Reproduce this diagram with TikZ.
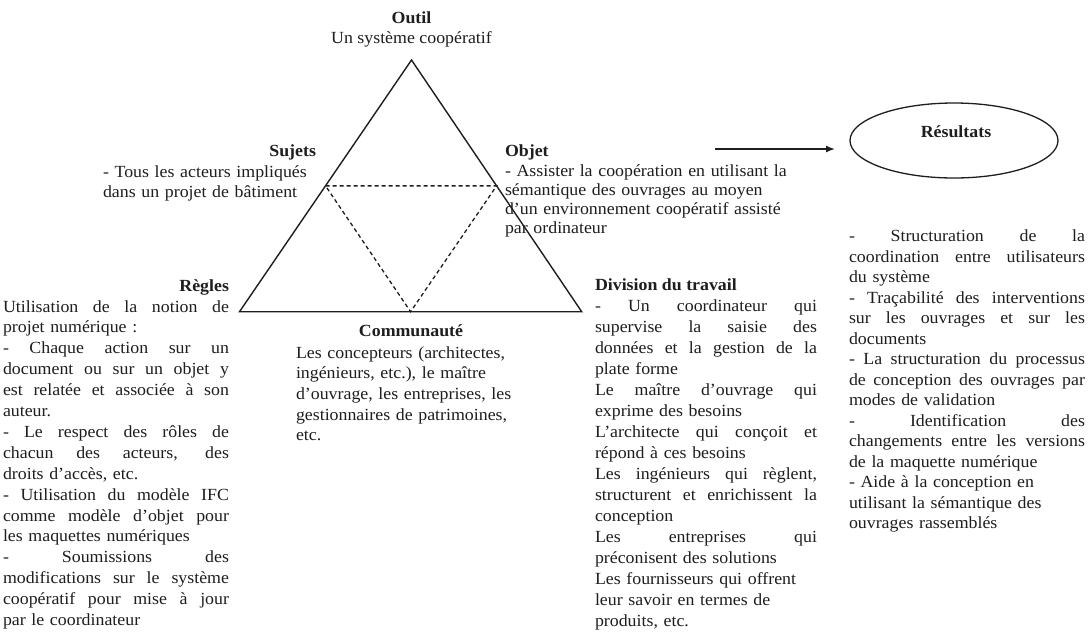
\documentclass[tikz,border=0pt]{standalone}
\usepackage{fontspec}
\setmainfont{Liberation Serif}[FakeStretch=1.05]
\usetikzlibrary{shapes.geometric,arrows.meta,calc}
\definecolor{ink}{RGB}{30,30,30}
\newcommand\colw{226pt}
\newcommand\J[1]{\leavevmode\hbox to \colw{\spaceskip=0.25em plus 10em\relax #1}}
\tikzset{
  txt/.style={text=ink, inner sep=0pt, outer sep=0pt},
  head/.style={txt, font=\fontsize{17}{20.7}\selectfont\bfseries},
  body/.style={txt, align=left, anchor=base west},
  tri/.style={draw=ink, line width=1.4pt, line join=miter},
  mid/.style={draw=ink, line width=1.3pt, dash pattern=on 4pt off 3pt},
}
\begin{document}
\begin{tikzpicture}[x=1pt,y=-1pt]
\fill[white] (0,0) rectangle (1088,633);
\useasboundingbox (0,0) rectangle (1088,633);

% triangle
\coordinate (A) at (411.5,60);
\coordinate (B) at (239.5,311.7);
\coordinate (C) at (581.7,311.7);
\coordinate (mAB) at ($(A)!0.5!(B)$);
\coordinate (mAC) at ($(A)!0.5!(C)$);
\coordinate (mBC) at ($(B)!0.5!(C)$);
\draw[tri] (A) -- (B) -- (C) -- cycle;
\draw[mid] (mAB) -- (mAC) -- (mBC) -- cycle;

% Outil
\node[head, anchor=base] (outil) at (411.5,23) {Outil};
\node[txt, anchor=base, font=\fontsize{17}{20.7}\selectfont] (outiltxt) at (411.5,43.5) {Un système coopératif};

% Sujets
\node[head, anchor=base east] (sujets) at (316,156) {Sujets};
\node[body, text width=230pt, font=\fontsize{17}{20}\selectfont] (sujetstxt) at (103,177)
 {- Tous les acteurs impliqués\\dans un projet de bâtiment};

% Objet
\node[head, anchor=base west] (objet) at (505,156.7) {Objet};
\node[body, text width=300pt, font=\fontsize{17}{19.3}\selectfont] (objettxt) at (505,176)
 {- Assister la coopération en utilisant la\\
  sémantique des ouvrages au moyen\\
  d’un environnement coopératif assisté\\
  par ordinateur};

% Regles
\node[head, anchor=base east] (regles) at (229,291) {Règles};
\node[body, text width=226pt, font=\fontsize{17}{20.9}\selectfont] (reglestxt) at (3,312)
 {\renewcommand\colw{226pt}%
  \J{Utilisation de la notion de}\\
  projet numérique :\\
  \J{- Chaque action sur un}\\
  \J{document ou sur un objet y}\\
  \J{est relatée et associée à son}\\
  auteur.\\
  \J{- Le respect des rôles de}\\
  \J{chacun des acteurs, des}\\
  droits d’accès, etc.\\
  \J{- Utilisation du modèle IFC}\\
  \J{comme modèle d’objet pour}\\
  les maquettes numériques\\
  \J{- Soumissions des}\\
  \J{modifications sur le système}\\
  \J{coopératif pour mise à jour}\\
  par le coordinateur};

% Communaute
\node[head, anchor=base] (comm) at (411,336.7) {Communauté};
\node[body, text width=250pt, font=\fontsize{17}{20.7}\selectfont] (commtxt) at (296,358)
 {Les concepteurs (architectes,\\
  ingénieurs, etc.), le maître\\
  d’ouvrage, les entreprises, les\\
  gestionnaires de patrimoines,\\
  etc.};

% Division du travail
\node[head, anchor=base west] (div) at (595,290) {Division du travail};
\node[body, text width=222pt, font=\fontsize{17}{21}\selectfont] (divtxt) at (595,311)
 {\renewcommand\colw{222pt}%
  \J{- Un coordinateur qui}\\
  \J{supervise la saisie des}\\
  \J{données et la gestion de la}\\
  plate forme\\
  \J{Le maître d’ouvrage qui}\\
  exprime des besoins\\
  \J{L’architecte qui conçoit et}\\
  répond à ces besoins\\
  \J{Les ingénieurs qui règlent,}\\
  \J{structurent et enrichissent la}\\
  conception\\
  \J{Les entreprises qui}\\
  préconisent des solutions\\
  Les fournisseurs qui offrent\\
  leur savoir en termes de\\
  produits, etc.};

% Resultats
\node[draw=ink, line width=1.3pt, ellipse, minimum width=208pt, minimum height=75pt, inner sep=0pt] (res) at (954,140.5) {};
\node[head, anchor=base] (restitle) at (956,137) {Résultats};
\coordinate (arrS) at (715,149);
\coordinate (arrE) at (835,149);
\draw[draw=ink, line width=1.4pt, -{Latex[length=9pt,width=7pt]}] (arrS) -- (arrE);

\node[body, text width=236pt, font=\fontsize{17}{20.5}\selectfont] (restxt) at (849,241.7)
 {\renewcommand\colw{236pt}%
  \J{- Structuration de la}\\
  \J{coordination entre utilisateurs}\\
  du système\\
  \J{- Traçabilité des interventions}\\
  \J{sur les ouvrages et sur les}\\
  documents\\
  \J{- La structuration du processus}\\
  \J{de conception des ouvrages par}\\
  modes de validation\\
  \J{- Identification des}\\
  \J{changements entre les versions}\\
  de la maquette numérique\\
  - Aide à la conception en\\
  utilisant la sémantique des\\
  ouvrages rassemblés};
\end{tikzpicture}
\end{document}
